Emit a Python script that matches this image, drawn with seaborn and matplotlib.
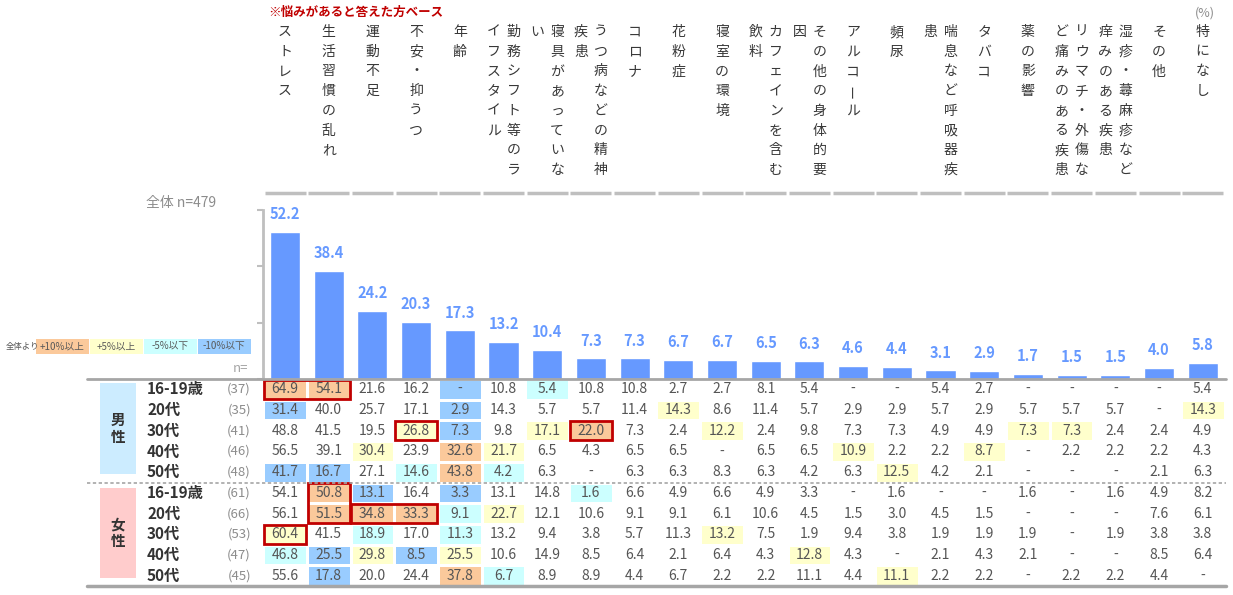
import matplotlib
matplotlib.use("Agg")
import matplotlib.pyplot as plt
import numpy as np
import seaborn as sns
from matplotlib.colors import ListedColormap
from matplotlib.patches import Rectangle

# --- data ---
headers = [
    ["ストレス"], ["生活習慣の乱れ"], ["運動不足"], ["不安・抑うつ"], ["年齢"],
    ["勤務シフト等のラ", "イフスタイル"], ["寝具があっていな", "い"],
    ["うつ病などの精神", "疾患"], ["コロナ"], ["花粉症"], ["寝室の環境"],
    ["カフェインを含む", "飲料"], ["その他の身体的要", "因"], ["アルコール"], ["頻尿"],
    ["喘息など呼吸器疾", "患"], ["タバコ"], ["薬の影響"],
    ["リウマチ・外傷な", "ど痛みのある疾患"], ["湿疹・蕁麻疹など", "痒みのある疾患"],
    ["その他"], ["特になし"],
]
categories = ["".join(h) for h in headers]
total = [52.2, 38.4, 24.2, 20.3, 17.3, 13.2, 10.4, 7.3, 7.3, 6.7, 6.7,
         6.5, 6.3, 4.6, 4.4, 3.1, 2.9, 1.7, 1.5, 1.5, 4.0, 5.8]

ages = ["16-19歳", "20代", "30代", "40代", "50代"]
male_n = [37, 35, 41, 46, 48]
female_n = [61, 66, 53, 47, 45]

N = None  # "-"
male_vals = [
    [64.9, 54.1, 21.6, 16.2, N, 10.8, 5.4, 10.8, 10.8, 2.7, 2.7, 8.1, 5.4, N, N, 5.4, 2.7, N, N, N, N, 5.4],
    [31.4, 40.0, 25.7, 17.1, 2.9, 14.3, 5.7, 5.7, 11.4, 14.3, 8.6, 11.4, 5.7, 2.9, 2.9, 5.7, 2.9, 5.7, 5.7, 5.7, N, 14.3],
    [48.8, 41.5, 19.5, 26.8, 7.3, 9.8, 17.1, 22.0, 7.3, 2.4, 12.2, 2.4, 9.8, 7.3, 7.3, 4.9, 4.9, 7.3, 7.3, 2.4, 2.4, 4.9],
    [56.5, 39.1, 30.4, 23.9, 32.6, 21.7, 6.5, 4.3, 6.5, 6.5, N, 6.5, 6.5, 10.9, 2.2, 2.2, 8.7, N, 2.2, 2.2, 2.2, 4.3],
    [41.7, 16.7, 27.1, 14.6, 43.8, 4.2, 6.3, N, 6.3, 6.3, 8.3, 6.3, 4.2, 6.3, 12.5, 4.2, 2.1, N, N, N, 2.1, 6.3],
]
female_vals = [
    [54.1, 50.8, 13.1, 16.4, 3.3, 13.1, 14.8, 1.6, 6.6, 4.9, 6.6, 4.9, 3.3, N, 1.6, N, N, 1.6, N, 1.6, 4.9, 8.2],
    [56.1, 51.5, 34.8, 33.3, 9.1, 22.7, 12.1, 10.6, 9.1, 9.1, 6.1, 10.6, 4.5, 1.5, 3.0, 4.5, 1.5, N, N, N, 7.6, 6.1],
    [60.4, 41.5, 18.9, 17.0, 11.3, 13.2, 9.4, 3.8, 5.7, 11.3, 13.2, 7.5, 1.9, 9.4, 3.8, 1.9, 1.9, 1.9, N, 1.9, 3.8, 3.8],
    [46.8, 25.5, 29.8, 8.5, 25.5, 10.6, 14.9, 8.5, 6.4, 2.1, 6.4, 4.3, 12.8, 4.3, N, 2.1, 4.3, 2.1, N, N, 8.5, 6.4],
    [55.6, 17.8, 20.0, 24.4, 37.8, 6.7, 8.9, 8.9, 4.4, 6.7, 2.2, 2.2, 11.1, 4.4, 11.1, 2.2, 2.2, N, 2.2, 2.2, 4.4, N],
]
# cell shading vs. total: O=+10 or more, Y=+5 or more, C=-5 or less, B=-10 or less
male_marks = [
    "OO..B.C...............",
    "B...B....Y...........Y",
    "...YB.YO..Y......YY...",
    "..Y.OY.......Y..Y.....",
    "BB.COC........Y.......",
]
female_marks = [
    ".OB.B..C..............",
    ".OOOCY................",
    "Y.C.C.....Y...........",
    "CBYBY.......Y.........",
    ".B..OC........Y.......",
]
# red outlined groups: (first row, last row, first col, last col)
boxes = [(0, 0, 0, 1), (2, 2, 3, 3), (2, 2, 7, 7), (5, 6, 1, 1), (6, 6, 2, 3), (7, 7, 0, 0)]

legend_labels = ["+10%以上", "+5%以上", "-5%以下", "-10%以下"]

# --- style ---
BAR = "#6699FF"
ORANGE, YELLOW, CYAN, BLUE = "#FBC99B", "#FFFFCC", "#CCFFFF", "#99CCFF"
RED = "#C00000"
GRID = "#A6A6A6"

sns.set_style("white")
plt.rcParams["font.family"] = ["Noto Sans CJK JP", "DejaVu Sans"]

W, H = 1233, 595
X0, PITCH = 263.15, 43.7
TAB_TOP, ROW_H = 379, 20.7


def cx(i):
    return X0 + PITCH * (i + 0.5)


fig = plt.figure(figsize=(W / 100, H / 100), dpi=100)


def px_axes(left, top, right, bottom):
    return fig.add_axes([left / W, 1 - bottom / H, (right - left) / W, (bottom - top) / H])


# bar chart
ax_bar = px_axes(X0, 210, X0 + 22 * PITCH, TAB_TOP)
sns.barplot(x=categories, y=total, order=categories, color=BAR, saturation=1,
            width=0.69, ax=ax_bar)
ax_bar.set_xlim(-0.5, 21.5)
ax_bar.set_ylim(0, 60)
ax_bar.set_yticks([0, 20, 40, 60])
ax_bar.set_yticklabels([])
ax_bar.set_xticks([])
ax_bar.set_xlabel("")
ax_bar.set_ylabel("")
for s in ["top", "right", "bottom"]:
    ax_bar.spines[s].set_visible(False)
ax_bar.spines["left"].set_color("#BFBFBF")
ax_bar.spines["left"].set_linewidth(2)
ax_bar.tick_params(axis="y", length=4, width=1.5, color="#BFBFBF", left=True)
ax_bar.patch.set_alpha(0)
ax_bar.bar_label(ax_bar.containers[0], fmt="%.1f", padding=7, color=BAR,
                 fontsize=10.5, fontweight="bold")

# table as a heatmap
code_map = {".": 0, "O": 1, "Y": 2, "C": 3, "B": 4}
marks = male_marks + female_marks
vals = male_vals + female_vals
codes = np.array([[code_map[c] for c in row] for row in marks])
annot = np.array([["-" if v is None else f"{v:.1f}" for v in row] for row in vals])

ax_tab = px_axes(X0, TAB_TOP, X0 + 22 * PITCH, TAB_TOP + 10 * ROW_H)
sns.heatmap(codes, ax=ax_tab, cmap=ListedColormap(["white", ORANGE, YELLOW, CYAN, BLUE]),
            vmin=-0.5, vmax=4.5, cbar=False, annot=annot, fmt="",
            annot_kws=dict(fontsize=10, color="#555555"),
            linewidths=0.8, linecolor="white", xticklabels=False, yticklabels=False)
for r0, r1, c0, c1 in boxes:
    ax_tab.add_patch(Rectangle((c0 + 0.02, r0 + 0.04), c1 - c0 + 0.96, r1 - r0 + 0.92,
                               fill=False, ec=RED, lw=2, clip_on=False, zorder=5))

# overlay in pixel coordinates
ax = px_axes(0, 0, W, H)
ax.set_xlim(0, W)
ax.set_ylim(H, 0)
ax.axis("off")

ax.text(268, 12, "※悩みがあると答えた方ベース", color=RED, fontsize=9, fontweight="bold",
        ha="left", va="center")
ax.text(1205, 13, "(%)", color="#8C8C8C", fontsize=9, ha="center", va="center")

for i, cols in enumerate(headers):
    offsets = [0] if len(cols) == 1 else [10, -10]
    for j, s in enumerate(cols):
        for k, ch in enumerate(s):
            ax.text(cx(i) + offsets[j], 32 + 19.7 * k, ch, ha="center", va="center",
                    fontsize=10, color="#383838", rotation=90 if ch == "ー" else 0)
    ax.plot([cx(i) - 20.5, cx(i) + 20.5], [193, 193], color="#BFBFBF", lw=2.5,
            solid_capstyle="butt")

ax.text(146, 203, "全体 n=479", color="#8C8C8C", fontsize=10, ha="left", va="center")
ax.text(248, 369, "n=", color="#A6A6A6", fontsize=9.5, ha="right", va="center")

# legend
ax.text(6, 346, "全体より", color="#595959", fontsize=6, ha="left", va="center")
for k, (lab, col) in enumerate(zip(legend_labels, [ORANGE, YELLOW, CYAN, BLUE])):
    left = 36 + k * 54
    ax.add_patch(Rectangle((left, 339), 52.5, 15, fc=col, ec="none"))
    ax.text(left + 26, 346.5, lab, color="#595959", fontsize=7, ha="center", va="center")

# table rules
ax.plot([87, 1226], [TAB_TOP, TAB_TOP], color=GRID, lw=2)
ax.plot([87, 1226], [TAB_TOP + 5 * ROW_H] * 2, color=GRID, lw=1.2, ls=(0, (2, 1.5)))
ax.plot([87, 1226], [TAB_TOP + 10 * ROW_H] * 2, color=GRID, lw=2.5)

# gender blocks
for g, (label, col) in enumerate([("男性", "#CCECFF"), ("女性", "#FFCCCC")]):
    top = TAB_TOP + 4 + g * (5 * ROW_H + 1)
    ax.add_patch(Rectangle((100, top), 36, 5 * ROW_H - 13, fc=col, ec="none"))
    mid = top + (5 * ROW_H - 13) / 2
    for k, ch in enumerate(label):
        ax.text(118, mid - 8.5 + 17 * k, ch, ha="center", va="center", fontsize=10.5,
                fontweight="bold", color="#333333")

# row labels
ns = male_n + female_n
for r in range(10):
    y = TAB_TOP + ROW_H * (r + 0.5)
    ax.text(147, y, ages[r % 5], ha="left", va="center", fontsize=11,
            fontweight="bold", color="#333333")
    ax.text(251, y, f"({ns[r]})", ha="right", va="center", fontsize=9.5, color="#8C8C8C")

fig.savefig("out.png", dpi=100)
